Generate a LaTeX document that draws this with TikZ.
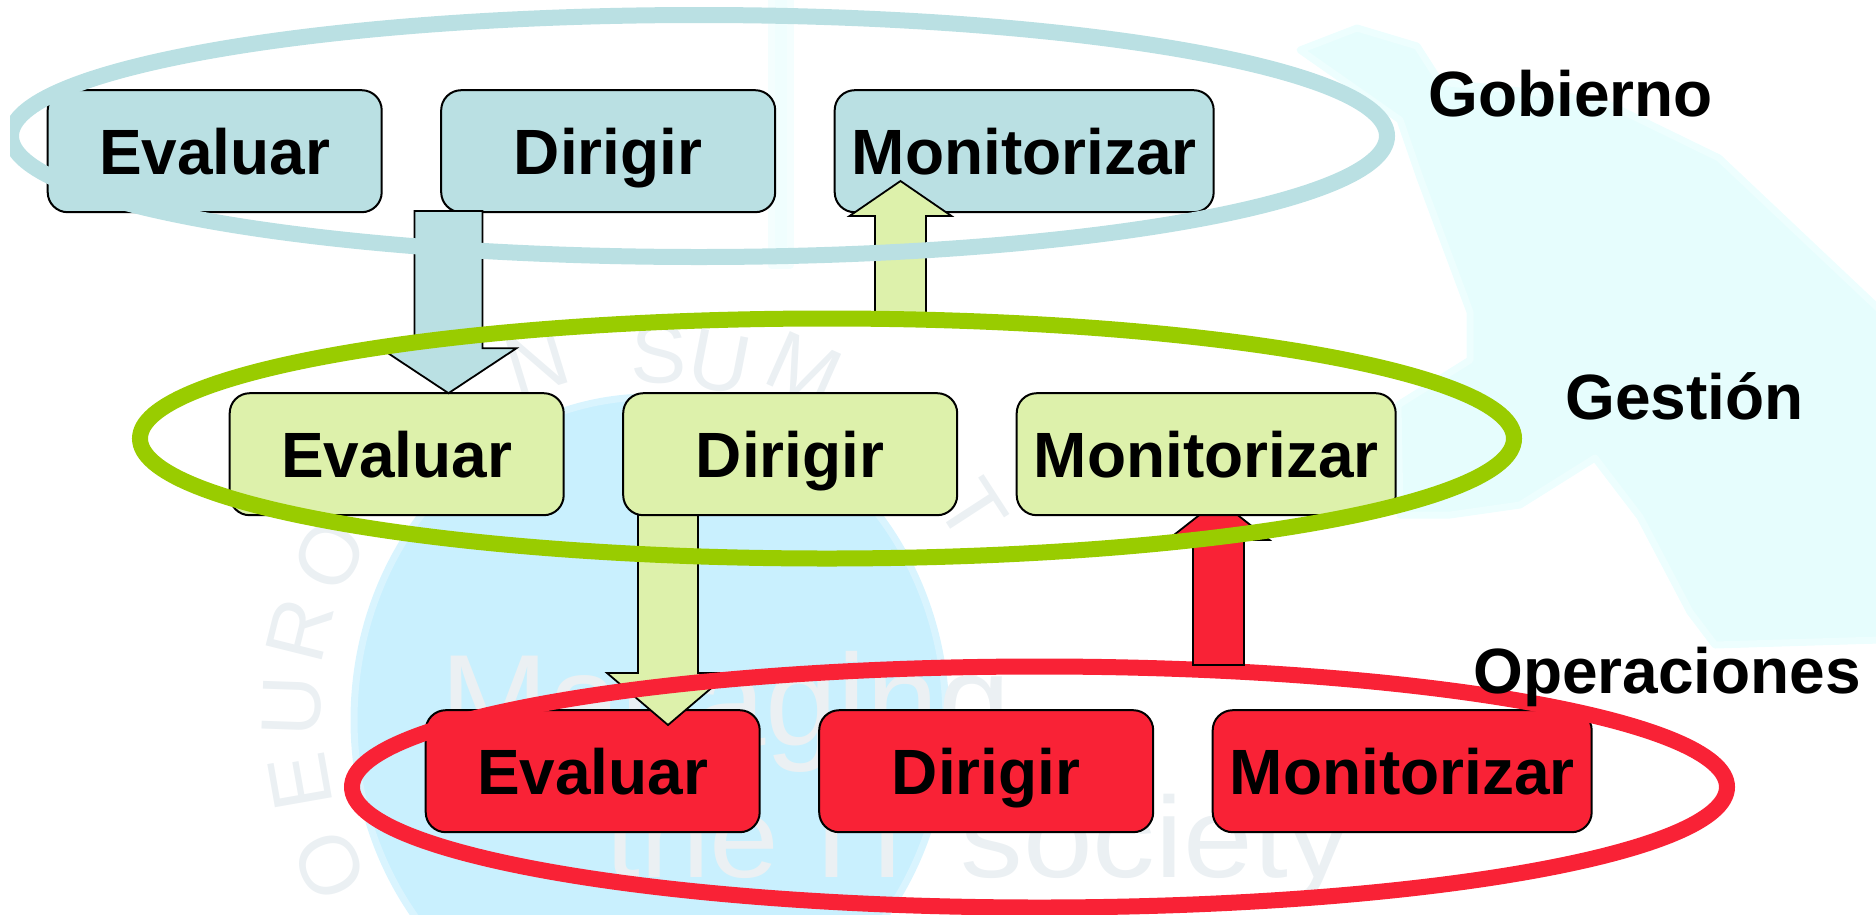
\documentclass[tikz,border=0pt]{standalone}
\usepackage{xcolor}
\usepackage{fontspec}
\setmainfont{Liberation Sans}
\usetikzlibrary{matrix,calc}

\definecolor{gobcol}{HTML}{BAE0E3}
\definecolor{gescol}{HTML}{DDF1AB}
\definecolor{gesline}{HTML}{99CC00}
\definecolor{opecol}{HTML}{F92236}
\definecolor{wmcyan}{HTML}{E6FDFD}
\definecolor{wmstrip}{HTML}{F0FEFE}
\definecolor{wmblue}{HTML}{C9F0FE}
\definecolor{wmtext}{HTML}{EBF0F3}

\tikzset{
  boxrow/.style={matrix of nodes, inner sep=0pt, column sep=57.5pt, anchor=north west,
    nodes={draw=black, line width=2pt, rounded corners=20pt, fill=#1, anchor=center,
      minimum width=334pt, minimum height=122pt, inner sep=0pt, outer sep=0pt,
      text height=47.5pt, text depth=0.5pt,
      font=\fontsize{64}{70}\selectfont\bfseries},
    column 3/.style={nodes={minimum width=379pt}}},
  ring/.style={draw=#1, line width=16pt},
  fatarrow/.style={draw=black, line width=1.8pt, fill=#1},
  levellabel/.style={anchor=base west, inner sep=0pt,
    font=\fontsize{64}{70}\selectfont\bfseries},
  wmletter/.style={text=wmtext, inner sep=0pt},
  wmpatch/.style={fill=#1, draw=#1!70, line width=7pt, line join=round},
}

\newcommand{\blockarrow}[6]{%
  \draw[fatarrow=#1] let \p1=(#2), \p2=(#3) in
    (\x1-#4pt,\y1) -- (\x1-#4pt,\y2+#6pt) -- (\x1-#5pt,\y2+#6pt) -- (\x2,\y2)
    -- (\x1+#5pt,\y2+#6pt) -- (\x1+#4pt,\y2+#6pt) -- (\x1+#4pt,\y1) -- cycle;
}

\begin{document}
\begin{tikzpicture}[x=1pt,y=-1pt]
    \useasboundingbox (0,0) rectangle (1876,914);
    \clip (10,0) rectangle (1876,914);

    % watermark
    \path[wmpatch=wmcyan] (1300,50) -- (1357,28) -- (1417,46) -- (1440,82) -- (1600,100) -- (1719,158)
      -- (1880,310) -- (1880,640) -- (1715,645) -- (1690,612) -- (1640,517) -- (1595,458)
      -- (1520,505) -- (1450,515) -- (1400,515) -- (1398,405) -- (1470,360) -- (1470,312)
      -- (1420,178) -- (1400,120) -- cycle;
    \path[wmpatch=wmstrip] (771,-10) rectangle (790,265);
    \path[wmpatch=wmblue] (650,720) ellipse [x radius=296, y radius=323];
    \foreach \ltr/\px/\py/\rot in {N/537/362/17, S/659/354/-1, U/720/362/-11, M/804/369/-24,
        T/973/510/-57, O/330/555/63, R/300/630/76, U/292/706/88, E/300/782/100, O/330/865/114} {
      \node[wmletter, rotate=\rot, font=\fontsize{84}{90}\selectfont] at (\px,\py) {\ltr};
    }
    \node (wmmanaging) [wmletter, anchor=base west, font=\fontsize{130}{140}\selectfont] at (440,745) {Managing};
    \node (wmsociety) [wmletter, anchor=base west, xscale=1.09, font=\fontsize{115}{130}\selectfont] at (605,877) {the IT society};

    \matrix (ope) [boxrow=opecol] at (424.5,709)
    {
      Evaluar & Dirigir & Monitorizar \\
    };

    \coordinate (gesdown) at (668,515);
    \coordinate (gesdowntip) at (668,725);
    \blockarrow{gescol}{gesdown}{gesdowntip}{30}{61}{52}

    \draw[ring=opecol] (1039.5,787) ellipse [x radius=687.5, y radius=120.5];

    \coordinate (opeup) at (1218.5,665);
    \coordinate (opeuptip) at (1218.5,500);
    \blockarrow{opecol}{opeup}{opeuptip}{25.5}{51}{-40}

    \matrix (ges) [boxrow=gescol] at (228.5,392)
    {
      Evaluar & Dirigir & Monitorizar \\
    };

    \matrix (gob) [boxrow=gobcol] at (46.5,89)
    {
      Evaluar & Dirigir & Monitorizar \\
    };

    \coordinate (gobdown) at (448.5,211);
    \blockarrow{gobcol}{gobdown}{gobdown |- ges-1-1.north}{34}{68}{45}

    \coordinate (gesup) at (900.5,318);
    \coordinate (gesuptip) at (900.5,181);
    \blockarrow{gescol}{gesup}{gesuptip}{25.5}{51}{-35}

    \draw[ring=gesline] (827,438.5) ellipse [x radius=687, y radius=120];
    \draw[ring=gobcol] (699,136) ellipse [x radius=688, y radius=121];

    \node (gobierno) [levellabel] at (1428,116) {Gobierno};
    \node (gestion) [levellabel] at (1565,419) {Gestión};
    \node (operaciones) [levellabel] at (1473,693) {Operaciones};
  \end{tikzpicture}
\end{document}
